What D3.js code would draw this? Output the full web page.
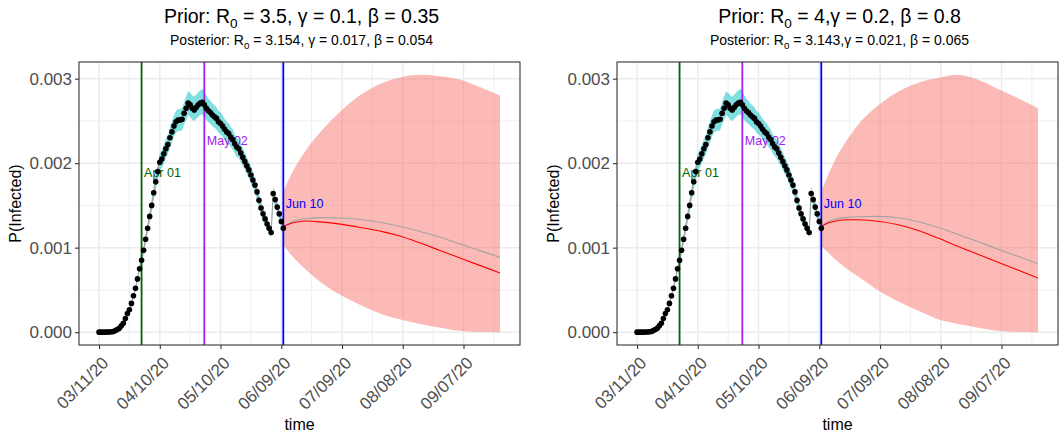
<!DOCTYPE html>
<html>
<head>
<meta charset="utf-8">
<script src="https://cdn.jsdelivr.net/npm/d3@7"></script>
<style>
  body { margin: 0; background: #fff; }
  svg { display: block; }
  text { font-family: "Liberation Sans", Arial, Helvetica, sans-serif; }
</style>
</head>
<body>
<div id="chart"></div>
<script>
// values of P(Infected) are written in units of 0.001
const UNIT = 1e-3;

// observed daily series, starting 03/11/20
const startDate = "2020-03-11";
const observed = [
  0, 0, 0, 0, 0.001, 0.002, 0.004, 0.008, 0.018, 0.030,
  0.045, 0.075, 0.105, 0.160, 0.220, 0.265, 0.340, 0.430, 0.520, 0.630,
  0.750, 0.850, 0.970, 1.100, 1.230, 1.370, 1.500, 1.650, 1.780, 1.900,
  2.010, 2.050, 2.110, 2.170, 2.220, 2.300, 2.370, 2.440, 2.490, 2.510,
  2.510, 2.520, 2.590, 2.650, 2.710, 2.690, 2.650, 2.630, 2.660, 2.690,
  2.710, 2.720, 2.690, 2.650, 2.620, 2.600, 2.570, 2.550, 2.530, 2.490,
  2.470, 2.440, 2.400, 2.370, 2.350, 2.310, 2.280, 2.230, 2.190, 2.170,
  2.120, 2.070, 2.020, 1.970, 1.920, 1.860, 1.800, 1.740, 1.660, 1.560,
  1.470, 1.400, 1.340, 1.280, 1.230, 1.180, 1.640, 1.570, 1.480, 1.400,
  1.310, 1.230
];
// fitted band around the observed points
const fitLower = [
  0, 0, 0, 0, 0, 0, 0.001, 0.004, 0.012, 0.023,
  0.037, 0.065, 0.094, 0.146, 0.204, 0.247, 0.319, 0.405, 0.492, 0.597,
  0.711, 0.806, 0.920, 1.043, 1.166, 1.299, 1.422, 1.564, 1.688, 1.802,
  1.906, 1.944, 2.001, 2.058, 2.105, 2.181, 2.247, 2.313, 2.360, 2.380,
  2.380, 2.390, 2.456, 2.512, 2.570, 2.550, 2.515, 2.500, 2.522, 2.550,
  2.570, 2.580, 2.550, 2.512, 2.484, 2.465, 2.437, 2.418, 2.399, 2.361,
  2.342, 2.314, 2.276, 2.248, 2.229, 2.191, 2.163, 2.116, 2.078, 2.059,
  2.012, 1.965, 1.917, 1.870, 1.822, 1.765, 1.708, 1.651, 1.575, 1.480,
  1.395, 1.328, 1.271, 1.214, 1.167, 1.119, 1.556, 1.490, 1.404, 1.328,
  1.243, 1.167
];
const fitUpper = [
  0.003, 0.003, 0.003, 0.004, 0.005, 0.006, 0.008, 0.013, 0.024, 0.037,
  0.054, 0.086, 0.117, 0.174, 0.236, 0.283, 0.361, 0.455, 0.548, 0.663,
  0.789, 0.894, 1.020, 1.157, 1.294, 1.441, 1.578, 1.736, 1.872, 1.998,
  2.114, 2.156, 2.219, 2.282, 2.335, 2.419, 2.493, 2.567, 2.620, 2.640,
  2.640, 2.650, 2.724, 2.788, 2.850, 2.830, 2.805, 2.790, 2.810, 2.840,
  2.860, 2.880, 2.850, 2.800, 2.764, 2.740, 2.707, 2.685, 2.663, 2.621,
  2.600, 2.568, 2.526, 2.494, 2.473, 2.431, 2.399, 2.346, 2.304, 2.283,
  2.230, 2.177, 2.125, 2.072, 2.020, 1.957, 1.893, 1.830, 1.746, 1.641,
  1.546, 1.473, 1.410, 1.347, 1.294, 1.242, 1.725, 1.651, 1.557, 1.473,
  1.378, 1.294
];

// forecast dates (after Jun 10)
const forecastDates = [
  "2020-06-10", "2020-06-13", "2020-06-16", "2020-06-22", "2020-06-28", "2020-07-09", "2020-07-19",
  "2020-07-29", "2020-08-07", "2020-08-16", "2020-08-26", "2020-09-05", "2020-09-15", "2020-09-25"
];
// left panel forecast
const leftUpper = [1.66, 1.82, 1.96, 2.18, 2.36, 2.63, 2.82, 2.95, 3.015, 3.045, 3.03, 2.99, 2.90, 2.80];
const leftLower = [1.04, 0.94, 0.86, 0.72, 0.60, 0.43, 0.31, 0.21, 0.15, 0.10, 0.055, 0.015, 0.002, 0];
const leftRed   = [1.25, 1.28, 1.30, 1.315, 1.305, 1.275, 1.235, 1.19, 1.134, 1.06, 0.97, 0.88, 0.79, 0.70];
const leftGray  = [1.25, 1.29, 1.32, 1.345, 1.355, 1.35, 1.33, 1.295, 1.25, 1.195, 1.125, 1.045, 0.965, 0.885];
// right panel forecast
const rightUpper = [1.67, 1.84, 2.00, 2.25, 2.45, 2.70, 2.86, 2.96, 3.01, 3.045, 2.99, 2.88, 2.77, 2.65];
const rightLower = [1.02, 0.95, 0.88, 0.76, 0.66, 0.48, 0.35, 0.24, 0.15, 0.10, 0.055, 0.015, 0.002, 0];
const rightRed   = [1.25, 1.29, 1.31, 1.33, 1.33, 1.31, 1.265, 1.195, 1.11, 1.02, 0.925, 0.83, 0.735, 0.64];
const rightGray  = [1.25, 1.30, 1.33, 1.355, 1.365, 1.37, 1.35, 1.30, 1.235, 1.16, 1.075, 0.985, 0.897, 0.81];

// reference dates
const markDates  = ["2020-04-01", "2020-05-02", "2020-06-10"];
const markLabels = ["Apr 01", "May 02", "Jun 10"];
const markLabelY = [1.89, 2.27, 1.52];
const markColors = ["#006400", "#A020F0", "#0000FF"];

// axes
const xTicks = ["2020-03-11", "2020-04-10", "2020-05-10", "2020-06-09", "2020-07-09", "2020-08-08", "2020-09-07"];
const xMinor = ["2020-03-26", "2020-04-25", "2020-05-25", "2020-06-24", "2020-07-24", "2020-08-23", "2020-09-22"];
const yTicks = [0, 0.001, 0.002, 0.003];
const yMinor = [0.0005, 0.0015, 0.0025];

const titles = [
  { prior: " = 3.5, γ = 0.1, β = 0.35", post: " = 3.154, γ = 0.017, β = 0.054" },
  { prior: " = 4,γ = 0.2, β = 0.8", post: " = 3.143,γ = 0.021, β = 0.065" }
];

const W = 1060, H = 433;
const svg = d3.select("#chart").append("svg").attr("width", W).attr("height", H);
const parse = d3.timeParse("%Y-%m-%d");
const t0 = parse(startDate);
const obsDates = observed.map((_, i) => d3.timeDay.offset(t0, i));
const fcDates = forecastDates.map(parse);

// title with a subscript zero after R
function richText(g, x, y, size, pre, rest) {
  const t = g.append("text").attr("x", x).attr("y", y)
    .attr("text-anchor", "middle").attr("font-size", size).attr("fill", "#000");
  t.append("tspan").text(pre + "R");
  t.append("tspan").attr("font-size", size * 0.7).attr("dy", size * 0.28).text("0");
  t.append("tspan").attr("dy", -size * 0.28).text(rest);
}

function drawPanel(dx, title, upper, lower, red, gray) {
  const L = 79 + dx, R = 520 + dx, T = 62, B = 345;
  const g = svg.append("g");

  const [d0, d1] = d3.extent(obsDates.concat(fcDates));
  const padT = (d1 - d0) * 0.05;
  const x = d3.scaleTime()
    .domain([new Date(+d0 - padT), new Date(+d1 + padT)])
    .range([L, R]);
  const yMax = d3.max(upper) * UNIT;
  const y = d3.scaleLinear()
    .domain([-yMax * 0.05, yMax * 1.05])
    .range([B, T]);

  // background grid
  const grid = g.append("g").attr("stroke", "#EBEBEB");
  grid.selectAll(".ymin").data(yMinor).join("line")
    .attr("x1", L).attr("x2", R).attr("y1", d => y(d)).attr("y2", d => y(d))
    .attr("stroke-width", 0.8);
  grid.selectAll(".xmin").data(xMinor.map(parse)).join("line")
    .attr("x1", d => x(d)).attr("x2", d => x(d)).attr("y1", T).attr("y2", B)
    .attr("stroke-width", 0.8);
  grid.selectAll(".ymaj").data(yTicks).join("line")
    .attr("x1", L).attr("x2", R).attr("y1", d => y(d)).attr("y2", d => y(d))
    .attr("stroke-width", 1.5);
  grid.selectAll(".xmaj").data(xTicks.map(parse)).join("line")
    .attr("x1", d => x(d)).attr("x2", d => x(d)).attr("y1", T).attr("y2", B)
    .attr("stroke-width", 1.5);

  // forecast ribbon
  const fc = fcDates.map((d, i) => ({ d, lo: lower[i] * UNIT, hi: upper[i] * UNIT, red: red[i] * UNIT, gray: gray[i] * UNIT }));
  g.append("path").datum(fc)
    .attr("d", d3.area().curve(d3.curveMonotoneX).x(d => x(d.d)).y0(d => y(d.lo)).y1(d => y(d.hi)))
    .attr("fill", "#F8766D").attr("fill-opacity", 0.5);

  // fitted band
  const obs = obsDates.map((d, i) => ({ d, v: observed[i] * UNIT, lo: fitLower[i] * UNIT, hi: fitUpper[i] * UNIT }));
  g.append("path").datum(obs)
    .attr("d", d3.area().x(d => x(d.d)).y0(d => y(d.lo)).y1(d => y(d.hi)))
    .attr("fill", "#00BFC4").attr("fill-opacity", 0.5);

  // lines
  g.append("path").datum(obs)
    .attr("d", d3.line().x(d => x(d.d)).y(d => y(d.v)))
    .attr("fill", "none").attr("stroke", "#A3A3A3").attr("stroke-width", 1.1);
  g.append("path").datum(fc)
    .attr("d", d3.line().curve(d3.curveMonotoneX).x(d => x(d.d)).y(d => y(d.gray)))
    .attr("fill", "none").attr("stroke", "#A3A3A3").attr("stroke-width", 1.1);
  g.append("path").datum(fc)
    .attr("d", d3.line().curve(d3.curveMonotoneX).x(d => x(d.d)).y(d => y(d.red)))
    .attr("fill", "none").attr("stroke", "#FF0000").attr("stroke-width", 1.1);

  // reference lines + labels
  markDates.forEach((m, i) => {
    const mx = x(parse(m));
    g.append("line").attr("x1", mx).attr("x2", mx).attr("y1", T).attr("y2", B)
      .attr("stroke", markColors[i]).attr("stroke-width", 1.8);
    g.append("text").attr("x", mx + 2.5).attr("y", y(markLabelY[i] * UNIT))
      .attr("dy", "0.35em").attr("font-size", 12.5).attr("fill", markColors[i])
      .text(markLabels[i]);
  });

  // observed points
  g.append("g").selectAll("circle").data(obs).join("circle")
    .attr("cx", d => x(d.d)).attr("cy", d => y(d.v)).attr("r", 2.8)
    .attr("fill", "#000");

  // panel border
  g.append("rect").attr("x", L).attr("y", T).attr("width", R - L).attr("height", B - T)
    .attr("fill", "none").attr("stroke", "#333333").attr("stroke-width", 1.1);

  // axes
  const xAxis = g.append("g").attr("transform", `translate(0,${B})`)
    .call(d3.axisBottom(x).tickValues(xTicks.map(parse)).tickFormat(d3.timeFormat("%m/%d/%y")).tickSize(4));
  xAxis.select(".domain").remove();
  xAxis.selectAll(".tick line").attr("stroke", "#333333").attr("stroke-width", 1.1);
  xAxis.selectAll(".tick text")
    .attr("x", 0).attr("y", 0).attr("dy", null)
    .attr("text-anchor", "end")
    .attr("transform", "translate(10,19) rotate(-45)")
    .attr("font-size", 17).attr("fill", "#4D4D4D")
    .attr("font-family", "Liberation Sans, Arial, sans-serif");

  const yAxis = g.append("g").attr("transform", `translate(${L},0)`)
    .call(d3.axisLeft(y).tickValues(yTicks).tickFormat(d3.format(".3f")).tickSize(4).tickPadding(3));
  yAxis.select(".domain").remove();
  yAxis.selectAll(".tick line").attr("stroke", "#333333").attr("stroke-width", 1.1);
  yAxis.selectAll(".tick text").attr("font-size", 17).attr("fill", "#4D4D4D")
    .attr("font-family", "Liberation Sans, Arial, sans-serif");

  // axis titles
  g.append("text").attr("x", (L + R) / 2).attr("y", 430).attr("text-anchor", "middle")
    .attr("font-size", 16).attr("fill", "#000").text("time");
  g.append("text").attr("transform", `translate(${dx + 21},${(T + B) / 2}) rotate(-90)`)
    .attr("text-anchor", "middle").attr("font-size", 16).attr("fill", "#000").text("P(Infected)");

  // titles
  richText(g, (L + R) / 2 + 2, 23, 19.5, "Prior: ", title.prior);
  richText(g, (L + R) / 2 + 2, 45, 14, "Posterior: ", title.post);
}

drawPanel(0, titles[0], leftUpper, leftLower, leftRed, leftGray);
drawPanel(538, titles[1], rightUpper, rightLower, rightRed, rightGray);
</script>
</body>
</html>
